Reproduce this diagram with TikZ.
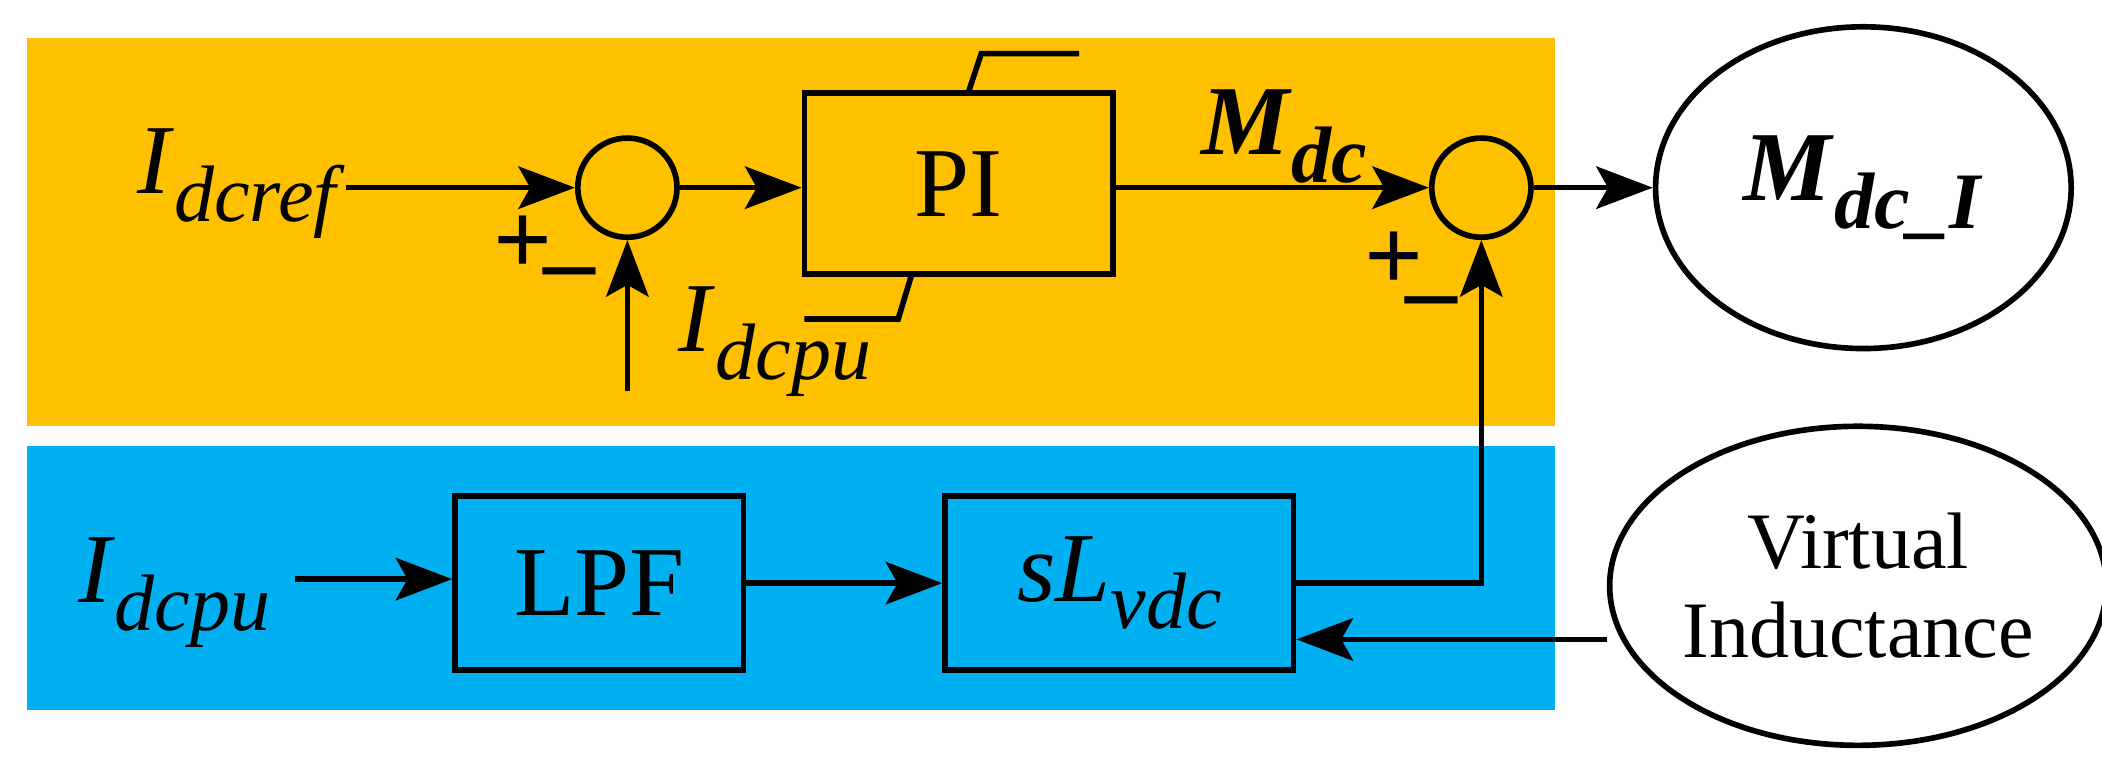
\documentclass[tikz,border=0pt]{standalone}
\usepackage{fontspec}
\setmainfont{Liberation Serif}
\usetikzlibrary{arrows.meta,shapes.geometric}
\newcommand{\symsub}[2]{\textit{#1}\raisebox{-0.28em}{\fontsize{34}{36}\selectfont\textit{#2}}}
\newcommand{\bsymsub}[2]{\textbf{\textit{#1}}\raisebox{-0.28em}{\fontsize{34}{36}\selectfont\textbf{\textit{#2}}}}
\begin{document}
\begin{tikzpicture}[x=0.02cm,y=-0.02cm,
  line width=2.4pt,
  arr/.style={-{Stealth[length=24pt,width=18pt,inset=5pt]}},
  blk/.style={draw,line width=2.4pt},
  big/.style={font=\fontsize{42}{48}\selectfont},
  sg/.style={font=\fontsize{44}{48}\selectfont\bfseries}]
\useasboundingbox (0,0) rectangle (1568,573);
\fill[fill={rgb,255:red,255;green,192;blue,0}] (20,28) rectangle (1160,318);
\fill[fill={rgb,255:red,0;green,176;blue,240}] (20,333) rectangle (1160,530);
\node[blk,circle,minimum size=74*0.02cm,inner sep=0] (s1) at (468,140) {};
\node[blk,circle,minimum size=74*0.02cm,inner sep=0] (s2) at (1105,140) {};
\node[blk,minimum width=230*0.02cm,minimum height=135*0.02cm,big] (pi) at (715,137) {PI};
\node[blk,ellipse,inner sep=0,minimum width=310*0.02cm,minimum height=240*0.02cm,big] (out) at (1390,140) {\bsymsub{M}{dc\_I}};
\node[blk,ellipse,inner sep=0,minimum width=318*0.02cm,minimum height=238*0.02cm,align=center,font=\fontsize{34}{38}\selectfont] (vi) at (1386,437) {Virtual\\Inductance};
\node[blk,minimum width=215*0.02cm,minimum height=130*0.02cm,big] (lpf) at (447,435) {LPF};
\node[blk,minimum width=260*0.02cm,minimum height=130*0.02cm,big] (sl) at (835,435) {\symsub{sL}{vdc}};
\node[big] (iref) at (180,137) {\symsub{I}{dcref}};
\node[big] (ipu1) at (578,255) {\symsub{I}{dcpu}};
\node[big] (ipu2) at (130,442) {\symsub{I}{dcpu}};
\node[big] (mdc) at (958,102) {\bsymsub{M}{dc}};
\node[sg] at (390,183) {+};
\node[sg] at (425,210) {\textendash};
\node[sg] at (1040,195) {+};
\node[sg] at (1068,232) {\textendash};
\coordinate (a1) at (258,140);
\coordinate (a2) at (468,292);
\coordinate (a3) at (220,432);
\coordinate (c1) at (1105,435);
\draw[arr] (a1) -- (s1.west);
\draw[arr] (a2) -- (s1.south);
\draw[arr] (s1.east) -- (s1.east -| pi.west);
\draw[arr] (pi.east |- s2) -- (s2.west);
\draw[arr] (s2.east) -- (out.west);
\draw[arr] (a3) -- (lpf.west |- a3);
\draw[arr] (lpf.east) -- (sl.west);
\draw[arr] (sl.east) -- (c1) -- (s2.south);
\draw[arr] (vi.west |- 0,477) -- (sl.east |- 0,477);
\draw (722,70) -- (732,40) -- (805,40);
\draw (680,205) -- (670,238) -- (600,238);
\end{tikzpicture}
\end{document}
